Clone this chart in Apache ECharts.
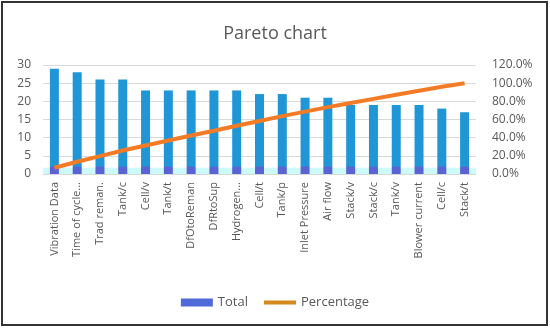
<!DOCTYPE html>
<html>
<head>
<meta charset="utf-8">
<script src="https://cdn.jsdelivr.net/npm/echarts@6/dist/echarts.min.js"></script>
<style>
  html, body { margin: 0; padding: 0; background: #fff; }
  #chart { width: 550px; height: 330px; }
</style>
</head>
<body>
<div id="chart"></div>
<script>
// categories and values
var categories = ['Vibration Data', 'Time of cycle...', 'Trad reman.', 'Tank/c', 'Cell/v', 'Tank/t',
  'DfOtoReman', 'DfRtoSup', 'Hydrogen...', 'Cell/t', 'Tank/p', 'Inlet Pressure', 'Air flow',
  'Stack/v', 'Stack/c', 'Tank/v', 'Blower current', 'Cell/c', 'Stack/t'];
var totals = [29, 28, 26, 26, 23, 23, 23, 23, 23, 22, 22, 21, 21, 19, 19, 19, 19, 18, 17];
var percentages = [0.069, 0.135, 0.197, 0.259, 0.314, 0.368, 0.423, 0.477, 0.532, 0.584,
  0.637, 0.687, 0.736, 0.781, 0.827, 0.872, 0.917, 0.960, 1.000];
var leftTicks = [0, 30, 5];
var rightTicks = [0, 1.2, 0.2];

var textColor = '#595959';
var font = '"Open Sans", sans-serif';

var chart = echarts.init(document.getElementById('chart'));
chart.setOption({
    animation: false,
    title: {
        text: 'Pareto chart',
        left: 'center',
        top: 20,
        textStyle: { color: textColor, fontSize: 18, fontWeight: 'normal', fontFamily: font }
    },
    graphic: [{
        type: 'rect',
        shape: { x: 2, y: 2, width: 545, height: 323 },
        style: { fill: null, stroke: '#333', lineWidth: 2 }
    }],
    legend: {
        bottom: 16,
        left: 'center',
        itemGap: 14,
        itemWidth: 32,
        itemHeight: 8,
        textStyle: { color: textColor, fontSize: 13, fontFamily: font },
        data: [
            { name: 'Total', icon: 'rect', itemStyle: { color: '#4F6BD8' } },
            {
                name: 'Percentage',
                itemStyle: { color: 'rgba(0,0,0,0)', borderWidth: 0 },
                lineStyle: { color: '#D4891E', width: 4 }
            }
        ]
    },
    grid: { left: 43, right: 74, top: 65, bottom: 156 },
    xAxis: {
        type: 'category',
        data: categories,
        axisTick: { show: false },
        axisLine: { lineStyle: { color: '#d9d9d9' } },
        axisLabel: { interval: 0, rotate: 90, color: textColor, fontSize: 11, fontFamily: font, margin: 8 }
    },
    yAxis: [{
        type: 'value',
        min: leftTicks[0], max: leftTicks[1], interval: leftTicks[2],
        axisLine: { show: false },
        axisTick: { show: false },
        splitLine: { lineStyle: { color: '#d9d9d9' } },
        axisLabel: { color: textColor, fontSize: 12, fontFamily: font, margin: 12 }
    }, {
        type: 'value',
        min: rightTicks[0], max: rightTicks[1], interval: rightTicks[2],
        axisLine: { show: false },
        axisTick: { show: false },
        splitLine: { show: false },
        axisLabel: {
            color: textColor, fontSize: 12, fontFamily: font, margin: 16,
            formatter: function (v) { return (v * 100).toFixed(1) + '%'; }
        }
    }],
    series: [{
        name: 'Total',
        type: 'bar',
        data: totals,
        barWidth: 9,
        itemStyle: {
            color: {
                type: 'linear', x: 0, y: 0, x2: 0, y2: 330, global: true,
                colorStops: [
                    { offset: 0, color: '#1F96D6' },
                    { offset: 0.504, color: '#1F96D6' },
                    { offset: 0.506, color: '#5A62D4' },
                    { offset: 1, color: '#5A62D4' }
                ]
            }
        },
        markArea: {
            silent: true,
            itemStyle: { color: 'rgba(200,250,250,0.9)' },
            data: [[{ yAxis: 0, x: 43 }, { yAxis: 1.7, x: 476 }]]
        },
        z: 2
    }, {
        name: 'Percentage',
        type: 'line',
        yAxisIndex: 1,
        data: percentages,
        symbol: 'none',
        lineStyle: { color: '#F47B25', width: 4 },
        itemStyle: { color: '#F47B25' },
        z: 3
    }]
});
</script>
</body>
</html>
